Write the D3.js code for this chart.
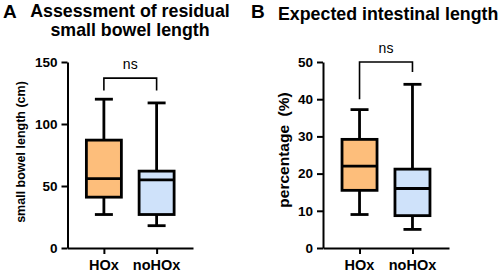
<!DOCTYPE html>
<html>
<head>
<meta charset="utf-8">
<script src="https://cdn.jsdelivr.net/npm/d3@7"></script>
<style>
  body { margin: 0; background: #fff; }
  svg { display: block; font-family: "Liberation Sans", Arial, sans-serif; }
  .axis path, .axis line { stroke: #000; stroke-width: 2; }
  .axis text { font-size: 13.5px; font-weight: bold; fill: #000; }
</style>
</head>
<body>
<script>
var w = 500;
var h = 274;

// groups
var categories = ["HOx", "noHOx"];
var fills = ["#FDBE7B", "#CFE2FA"];

// panel A: residual small bowel length (cm) - [min, q1, median, q3, max]
var lengthStats = [
  [27, 41, 56, 87, 120],
  [18, 27, 55, 62, 117]
];
var lengthTicks = [0, 50, 100, 150];

// panel B: expected intestinal length (%) - [min, q1, median, q3, max]
var percentStats = [
  [9, 15.5, 22, 29.2, 37.2],
  [5, 8.7, 16, 21.2, 44]
];
var percentTicks = [0, 10, 20, 30, 40, 50];

var svg = d3.select("body").append("svg").attr("width", w).attr("height", h);

function drawPanel(opt) {
  var g = svg.append("g");

  var xScale = d3.scalePoint().domain(categories).range([opt.x0, opt.x1]).padding(0.69);
  var yScale = d3.scaleLinear().domain(opt.domain).range([248, 62]);

  var xAxis = d3.axisBottom(xScale).tickSize(6).tickSizeOuter(0).tickFormat("");
  var yAxis = d3.axisLeft(yScale).tickValues(opt.ticks).tickSize(6).tickSizeOuter(0);

  g.append("g").attr("class", "axis")
    .attr("transform", "translate(0,248)")
    .call(xAxis);
  g.append("g").attr("class", "axis")
    .attr("transform", "translate(" + opt.x0 + ",0)")
    .call(yAxis)
    .selectAll("text").attr("dx", "-1");

  // category labels
  g.selectAll(".cat").data(categories).enter().append("text")
    .attr("x", function (d) { return xScale(d); })
    .attr("y", 270)
    .attr("text-anchor", "middle")
    .style("font-size", "14.5px").style("font-weight", "bold")
    .text(function (d) { return d; });

  var bw = 35, cw = 18;
  var boxes = g.selectAll(".box").data(opt.stats).enter().append("g");

  boxes.append("line")
    .attr("x1", function (d, i) { return xScale(categories[i]); })
    .attr("x2", function (d, i) { return xScale(categories[i]); })
    .attr("y1", function (d) { return yScale(d[0]); })
    .attr("y2", function (d) { return yScale(d[4]); })
    .attr("stroke", "#000").attr("stroke-width", 2.8);
  [0, 4].forEach(function (k) {
    boxes.append("line")
      .attr("x1", function (d, i) { return xScale(categories[i]) - cw / 2; })
      .attr("x2", function (d, i) { return xScale(categories[i]) + cw / 2; })
      .attr("y1", function (d) { return yScale(d[k]); })
      .attr("y2", function (d) { return yScale(d[k]); })
      .attr("stroke", "#000").attr("stroke-width", 2.8);
  });
  boxes.append("rect")
    .attr("x", function (d, i) { return xScale(categories[i]) - bw / 2; })
    .attr("width", bw)
    .attr("y", function (d) { return yScale(d[3]); })
    .attr("height", function (d) { return yScale(d[1]) - yScale(d[3]); })
    .attr("fill", function (d, i) { return fills[i]; })
    .attr("stroke", "#000").attr("stroke-width", 2.8);
  boxes.append("line")
    .attr("x1", function (d, i) { return xScale(categories[i]) - bw / 2; })
    .attr("x2", function (d, i) { return xScale(categories[i]) + bw / 2; })
    .attr("y1", function (d) { return yScale(d[2]); })
    .attr("y2", function (d) { return yScale(d[2]); })
    .attr("stroke", "#000").attr("stroke-width", 2.8);

  // significance bracket
  var xa = xScale(categories[0]), xb = xScale(categories[1]);
  g.append("path")
    .attr("d", "M" + xa + "," + yScale(opt.bracket[1]) +
      "V" + yScale(opt.bracket[0]) + "H" + xb + "V" + yScale(opt.bracket[2]))
    .attr("fill", "none").attr("stroke", "#000").attr("stroke-width", 1.6);
  g.append("text")
    .attr("x", (xa + xb) / 2).attr("y", yScale(opt.bracket[0]) - 9)
    .attr("text-anchor", "middle").style("font-size", "14px")
    .text("ns");

  // y label
  g.append("text")
    .attr("transform", "translate(" + opt.labelX + "," + opt.labelY + ") rotate(-90)")
    .attr("text-anchor", "middle")
    .style("font-size", opt.labelSize).style("font-weight", "bold")
    .style("white-space", "pre")
    .text(opt.label);
}

drawPanel({
  x0: 67.5, x1: 193, domain: [0, 150], ticks: lengthTicks, stats: lengthStats,
  bracket: [137, 127, 127], label: "small bowel length (cm)",
  labelX: 25, labelY: 152, labelSize: "12.5px"
});
drawPanel({
  x0: 323, x1: 449, domain: [0, 50], ticks: percentTicks, stats: percentStats,
  bracket: [50, 40, 47.3], label: "percentage  (%)",
  labelX: 289, labelY: 150, labelSize: "15.5px"
});

// titles
svg.append("text").attr("x", 3).attr("y", 18)
  .style("font-size", "19px").style("font-weight", "bold").text("A");
svg.append("text").attr("x", 130).attr("y", 17).attr("text-anchor", "middle")
  .style("font-size", "17.8px").style("font-weight", "bold").text("Assessment of residual");
svg.append("text").attr("x", 130).attr("y", 36).attr("text-anchor", "middle")
  .style("font-size", "17.8px").style("font-weight", "bold").text("small bowel length");
svg.append("text").attr("x", 251).attr("y", 18)
  .style("font-size", "19px").style("font-weight", "bold").text("B");
svg.append("text").attr("x", 278).attr("y", 20)
  .style("font-size", "17.8px").style("font-weight", "bold").text("Expected intestinal length");
</script>
</body>
</html>
